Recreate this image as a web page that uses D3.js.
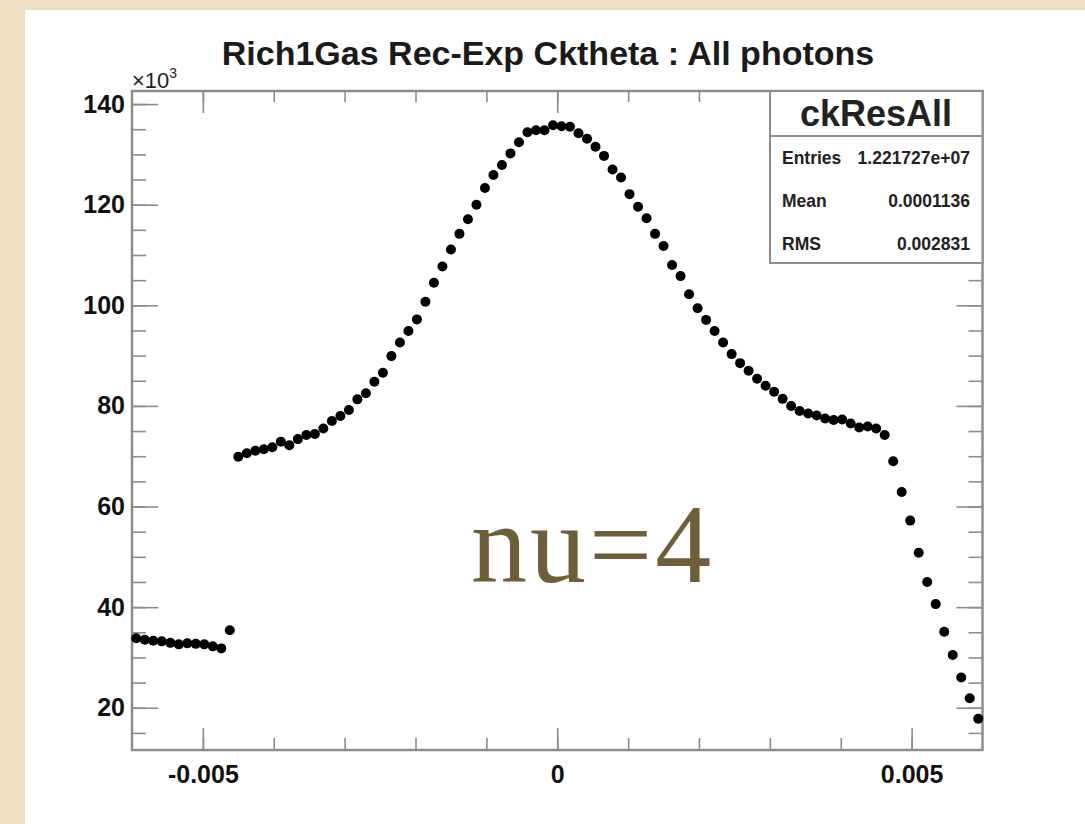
<!DOCTYPE html>
<html lang="en">

<head>
    <meta charset="UTF-8">
    <title>ckResAll</title>
    <script src="https://d3js.org/d3.v7.min.js"></script>
    <style>
        body {
            margin: 0;
            background: #ecdfc3;
        }

        svg {
            display: block;
        }

        .axis text {
            font-family: "Liberation Sans", Arial, sans-serif;
            font-weight: bold;
            font-size: 25px;
            fill: #111;
        }

        .axis line {
            stroke: #8c8c8c;
            stroke-width: 1.6px;
        }

        .stats text {
            font-family: "Liberation Sans", Arial, sans-serif;
            font-weight: bold;
            fill: #222;
        }
    </style>
</head>

<body>
    <svg width="1085" height="824"></svg>

    <script>
        // histogram binning
        const nBins = 100;
        const xMin = -0.006, xMax = 0.006;

        // bin contents, in units of 10^3 entries
        const counts = [
            33.8, 33.5, 33.3, 33.2, 32.9, 32.6, 32.8, 32.7, 32.6, 32.2, 31.8,
            35.4,
            69.9, 70.6, 71.1, 71.4, 71.8, 72.9, 72.2, 73.4, 74.2, 74.4, 75.5, 77.0, 78.0, 79.2, 81.3, 82.5, 84.8,
            86.6, 89.9, 92.6, 94.9, 97.2, 100.7, 104.5, 107.7, 111.1, 114.2, 117.1, 120.0, 123.3, 125.9, 127.9,
            130.2, 132.4, 134.4, 134.8, 134.8, 135.8, 135.6, 135.5, 134.2, 133.1, 131.5, 129.7, 127.0, 125.4,
            122.1, 119.6, 117.3, 114.2, 111.8, 108.0, 105.8, 102.2, 99.4, 97.1, 94.9, 92.6, 90.3, 88.5,
            87.0, 85.4, 84.0, 82.8, 81.4, 80.0, 79.0, 78.5, 78.1, 77.5, 77.2, 77.3, 76.5, 75.7, 75.9, 75.5, 74.2,
            69.0, 62.9, 57.2, 50.8, 45.0, 40.6, 35.1, 30.5, 26.0, 21.9, 17.8
        ];

        const xMajorTicks = [-0.005, 0, 0.005];
        const xMinorTicks = [-0.005, -0.004, -0.003, -0.002, -0.001, 0, 0.001, 0.002, 0.003, 0.004, 0.005];
        const xTickLabels = ["-0.005", "0", "0.005"];
        const yMajorTicks = [20, 40, 60, 80, 100, 120, 140];
        const yMinorTicks = [15, 20, 25, 30, 35, 40, 45, 50, 55, 60, 65, 70, 75, 80, 85, 90, 95, 100,
            105, 110, 115, 120, 125, 130, 135, 140];

        const titleText = "Rich1Gas Rec-Exp Cktheta : All photons";
        const statsName = "ckResAll";
        const statsRows = [["Entries", "1.221727e+07"], ["Mean", "0.0001136"], ["RMS", "0.002831"]];
        const noteText = "nu=4";

        const svg = d3.select("svg");

        // white page
        svg.append("rect")
            .attr("x", 25).attr("y", 10)
            .attr("width", 1060).attr("height", 814)
            .attr("fill", "#ffffff");

        const frame = { left: 132, right: 982.5, top: 91, bottom: 750 };

        const x = d3.scaleLinear().domain([xMin, xMax]).range([frame.left, frame.right]);
        const y = d3.scaleLinear().domain([11.6, 142.6]).range([frame.bottom, frame.top]);

        const binWidth = (xMax - xMin) / nBins;
        const points = counts.map((c, i) => ({ x: xMin + (i + 0.5) * binWidth, y: c }));

        // bottom axis
        svg.append("g").attr("class", "axis")
            .attr("transform", `translate(0,${frame.bottom})`)
            .call(d3.axisBottom(x).tickValues(xMinorTicks).tickSize(-12).tickFormat(""))
            .call(g => g.select(".domain").remove());
        svg.append("g").attr("class", "axis")
            .attr("transform", `translate(0,${frame.bottom})`)
            .call(d3.axisBottom(x).tickValues(xMajorTicks).tickSize(-22).tickPadding(15)
                .tickFormat((d, i) => xTickLabels[i]))
            .call(g => g.select(".domain").remove());

        // top axis (ticks only)
        svg.append("g").attr("class", "axis")
            .attr("transform", `translate(0,${frame.top})`)
            .call(d3.axisTop(x).tickValues(xMinorTicks).tickSize(-11).tickFormat(""))
            .call(g => g.select(".domain").remove());
        svg.append("g").attr("class", "axis")
            .attr("transform", `translate(0,${frame.top})`)
            .call(d3.axisTop(x).tickValues(xMajorTicks).tickSize(-22).tickFormat(""))
            .call(g => g.select(".domain").remove());

        // left axis
        svg.append("g").attr("class", "axis")
            .attr("transform", `translate(${frame.left},0)`)
            .call(d3.axisLeft(y).tickValues(yMinorTicks).tickSize(-14).tickFormat(""))
            .call(g => g.select(".domain").remove());
        svg.append("g").attr("class", "axis")
            .attr("transform", `translate(${frame.left},0)`)
            .call(d3.axisLeft(y).tickValues(yMajorTicks).tickSize(-26).tickPadding(7).tickFormat(d3.format("d")))
            .call(g => g.select(".domain").remove());

        // right axis (ticks only)
        svg.append("g").attr("class", "axis")
            .attr("transform", `translate(${frame.right},0)`)
            .call(d3.axisRight(y).tickValues(yMinorTicks).tickSize(-14).tickFormat(""))
            .call(g => g.select(".domain").remove());
        svg.append("g").attr("class", "axis")
            .attr("transform", `translate(${frame.right},0)`)
            .call(d3.axisRight(y).tickValues(yMajorTicks).tickSize(-26).tickFormat(""))
            .call(g => g.select(".domain").remove());

        // frame
        svg.append("rect")
            .attr("x", frame.left).attr("y", frame.top)
            .attr("width", frame.right - frame.left).attr("height", frame.bottom - frame.top)
            .attr("fill", "none")
            .attr("stroke", "#8c8c8c")
            .attr("stroke-width", 2.5);

        // exponent label
        const expo = svg.append("text")
            .attr("x", frame.left).attr("y", 88)
            .attr("font-family", "Liberation Sans, Arial, sans-serif")
            .attr("font-size", 22)
            .attr("fill", "#222")
            .text("\u00d710");
        expo.append("tspan")
            .attr("font-size", 14)
            .attr("dy", -10)
            .text("3");

        // markers
        svg.append("g")
            .selectAll("circle")
            .data(points)
            .join("circle")
            .attr("cx", d => x(d.x))
            .attr("cy", d => y(d.y))
            .attr("r", 5)
            .attr("fill", "#000");

        // title
        svg.append("text")
            .attr("x", 548).attr("y", 65)
            .attr("text-anchor", "middle")
            .attr("font-family", "Liberation Sans, Arial, sans-serif")
            .attr("font-weight", "bold")
            .attr("font-size", 34)
            .attr("fill", "#1a1a1a")
            .text(titleText);

        // stats box
        const stats = svg.append("g").attr("class", "stats");
        stats.append("rect")
            .attr("x", 770).attr("y", frame.top)
            .attr("width", frame.right - 770).attr("height", 172)
            .attr("fill", "#fff")
            .attr("stroke", "#8c8c8c")
            .attr("stroke-width", 2);
        stats.append("line")
            .attr("x1", 770).attr("x2", frame.right)
            .attr("y1", 136).attr("y2", 136)
            .attr("stroke", "#8c8c8c")
            .attr("stroke-width", 2);
        stats.append("text")
            .attr("x", 876).attr("y", 126)
            .attr("text-anchor", "middle")
            .attr("font-size", 36)
            .text(statsName);
        statsRows.forEach((row, i) => {
            const yy = 164 + i * 43;
            stats.append("text").attr("x", 782).attr("y", yy)
                .attr("font-size", 17.5).text(row[0]);
            stats.append("text").attr("x", 970).attr("y", yy)
                .attr("text-anchor", "end")
                .attr("font-size", 17.5).text(row[1]);
        });

        // annotation
        svg.append("text")
            .attr("x", 471).attr("y", 582)
            .attr("font-family", "Liberation Serif, 'Times New Roman', serif")
            .attr("font-size", 112)
            .attr("letter-spacing", 3)
            .attr("fill", "#6e5f3a")
            .text(noteText);
    </script>
</body>

</html>
